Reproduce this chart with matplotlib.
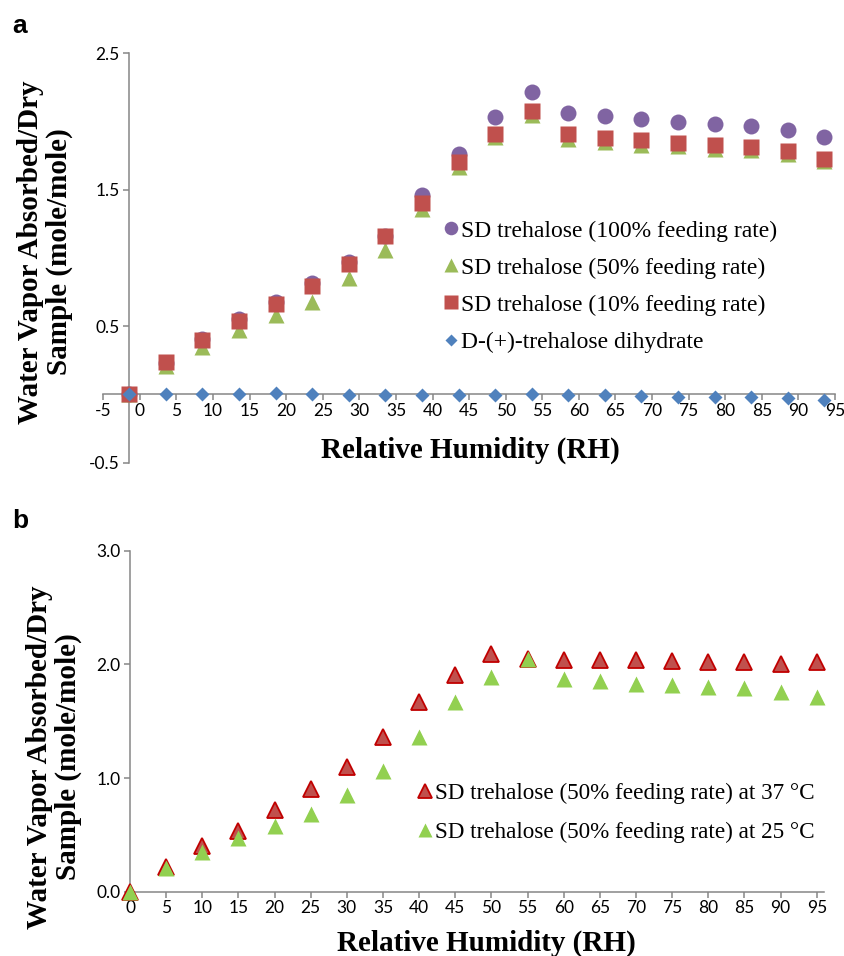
import numpy as np
import matplotlib
matplotlib.use("Agg")
import matplotlib.pyplot as plt

# relative humidity steps (%)
rh = [0, 5, 10, 15, 20, 25, 30, 35, 40, 45, 50, 55, 60, 65, 70, 75, 80, 85, 90, 95]

# panel a: water vapour absorbed (mole/mole)
sd100 = [0.00, 0.23, 0.41, 0.555, 0.68, 0.82, 0.97, 1.16, 1.46, 1.765,
         2.03, 2.22, 2.06, 2.04, 2.02, 2.00, 1.985, 1.965, 1.94, 1.885]
sd50 = [0.00, 0.21, 0.35, 0.47, 0.58, 0.68, 0.85, 1.06, 1.36, 1.67,
        1.89, 2.05, 1.87, 1.85, 1.83, 1.82, 1.80, 1.79, 1.76, 1.71]
sd10 = [0.00, 0.237, 0.396, 0.538, 0.665, 0.795, 0.958, 1.159, 1.40, 1.70,
        1.905, 2.08, 1.91, 1.88, 1.863, 1.846, 1.83, 1.814, 1.785, 1.724]
dihydrate = [0.007, 0.007, 0.0, 0.002, 0.01, 0.0, -0.002, -0.005, -0.002, -0.002,
             -0.005, 0.0, -0.005, -0.005, -0.01, -0.017, -0.02, -0.02, -0.024, -0.04]

# panel b: 50% feeding rate at two temperatures
sd50_37 = [0.00, 0.22, 0.40, 0.53, 0.72, 0.90, 1.10, 1.36, 1.67, 1.91,
           2.09, 2.05, 2.04, 2.04, 2.04, 2.03, 2.02, 2.02, 2.00, 2.02]
sd50_25 = sd50

xtick_vals = [-5, 0, 5, 10, 15, 20, 25, 30, 35, 40, 45, 50, 55, 60, 65, 70, 75, 80, 85, 90, 95]

W, H = 845, 956
fig = plt.figure(figsize=(W / 100, H / 100), dpi=100)


def fx(px):
    return px / W


def fy(py):
    return 1 - py / H


spine_col = "#868686"
tick_font = "Lato"
serif = "Liberation Serif"


def style_axes(ax):
    for s in ["top", "right"]:
        ax.spines[s].set_visible(False)
    for s in ["left", "bottom"]:
        ax.spines[s].set_color(spine_col)
        ax.spines[s].set_linewidth(1.1)
    ax.tick_params(axis="both", color=spine_col, width=1.1, length=4,
                   labelsize=12.5, labelcolor="black", direction="out")
    ax.tick_params(axis="x", pad=2)
    ax.tick_params(axis="y", pad=3)
    for lab in ax.get_xticklabels() + ax.get_yticklabels():
        lab.set_fontfamily(tick_font)


# ---------- panel a ----------
ax1 = fig.add_axes([fx(103.3), fy(462.7), fx(835 - 103.3), (462.7 - 53.3) / H])
ms = 11.5
ax1.plot(rh, sd100, "o", color="#8064A2", ms=ms, mec="none",
         label="SD trehalose (100% feeding rate)", clip_on=False, zorder=3)
ax1.plot(rh, sd50, "^", color="#9BBB59", ms=ms, mec="none",
         label="SD trehalose (50% feeding rate)", clip_on=False, zorder=4)
ax1.plot(rh, sd10, "s", color="#C0504D", ms=ms, mec="none",
         label="SD trehalose (10% feeding rate)", clip_on=False, zorder=5)
ax1.plot(rh, dihydrate, "D", color="#4F81BD", ms=7.3, mec="none",
         label="D-(+)-trehalose dihydrate", clip_on=False, zorder=6)

ax1.set_xlim(-3.55, 96.45)
ax1.set_ylim(-0.5, 2.5)
ax1.spines["left"].set_position(("data", 0))
ax1.spines["bottom"].set_position(("data", 0))
ax1.set_xticks(np.array(xtick_vals) + 1.45)
ax1.set_xticklabels([str(v) for v in xtick_vals])
ax1.set_yticks([-0.5, 0.5, 1.5, 2.5])
ax1.set_yticklabels(["-0.5", "0.5", "1.5", "2.5"])
style_axes(ax1)

leg1 = ax1.legend(loc="upper left", bbox_to_anchor=(fx(444), fy(220)),
                  bbox_transform=fig.transFigure, frameon=False,
                  prop={"family": serif, "size": 17}, handlelength=0.6,
                  handletextpad=0.12, labelspacing=0.66, borderpad=0,
                  borderaxespad=0, markerscale=0.85)

fig.text(fx(470), fy(450), "Relative Humidity (RH)", family=serif,
         weight="bold", size=21, ha="center", va="center")
fig.text(fx(45), fy(252), "Water Vapor Absorbed/Dry\nSample (mole/mole)",
         family=serif, weight="bold", size=21, rotation=90,
         ha="center", va="center", multialignment="center", linespacing=1.05)
fig.text(fx(12), fy(33), "a", family="Liberation Sans", weight="bold",
         size=19, ha="left", va="baseline")

# ---------- panel b ----------
ax2 = fig.add_axes([fx(130), fy(891.7), fx(824 - 130), 341 / H])
ax2.plot(rh, sd50_37, "^", color="#C0504D", ms=ms, mec="#C00000", mew=1.3,
         label="SD trehalose (50% feeding rate) at 37 °C", clip_on=False, zorder=3)
ax2.plot(rh, sd50_25, "^", color="#92D050", ms=ms, mec="none",
         label="SD trehalose (50% feeding rate) at 25 °C", clip_on=False, zorder=4)
ax2.set_xlim(0, 96)
ax2.set_ylim(0, 3.0)
ax2.set_xticks(rh)
ax2.set_xticklabels([str(v) for v in rh])
ax2.set_yticks([0, 1, 2, 3])
ax2.set_yticklabels(["0.0", "1.0", "2.0", "3.0"])
style_axes(ax2)

leg2 = ax2.legend(loc="upper left", bbox_to_anchor=(fx(418), fy(783)),
                  bbox_transform=fig.transFigure, frameon=False,
                  prop={"family": serif, "size": 16.7}, handlelength=0.6,
                  handletextpad=0.12, labelspacing=0.75, borderpad=0,
                  borderaxespad=0, markerscale=0.85)

fig.text(fx(486), fy(943), "Relative Humidity (RH)", family=serif,
         weight="bold", size=21, ha="center", va="center")
fig.text(fx(54), fy(757), "Water Vapor Absorbed/Dry\nSample (mole/mole)",
         family=serif, weight="bold", size=21, rotation=90,
         ha="center", va="center", multialignment="center", linespacing=1.05)
fig.text(fx(12), fy(528), "b", family="Liberation Sans", weight="bold",
         size=19, ha="left", va="baseline")

fig.savefig("out.png", dpi=100)
